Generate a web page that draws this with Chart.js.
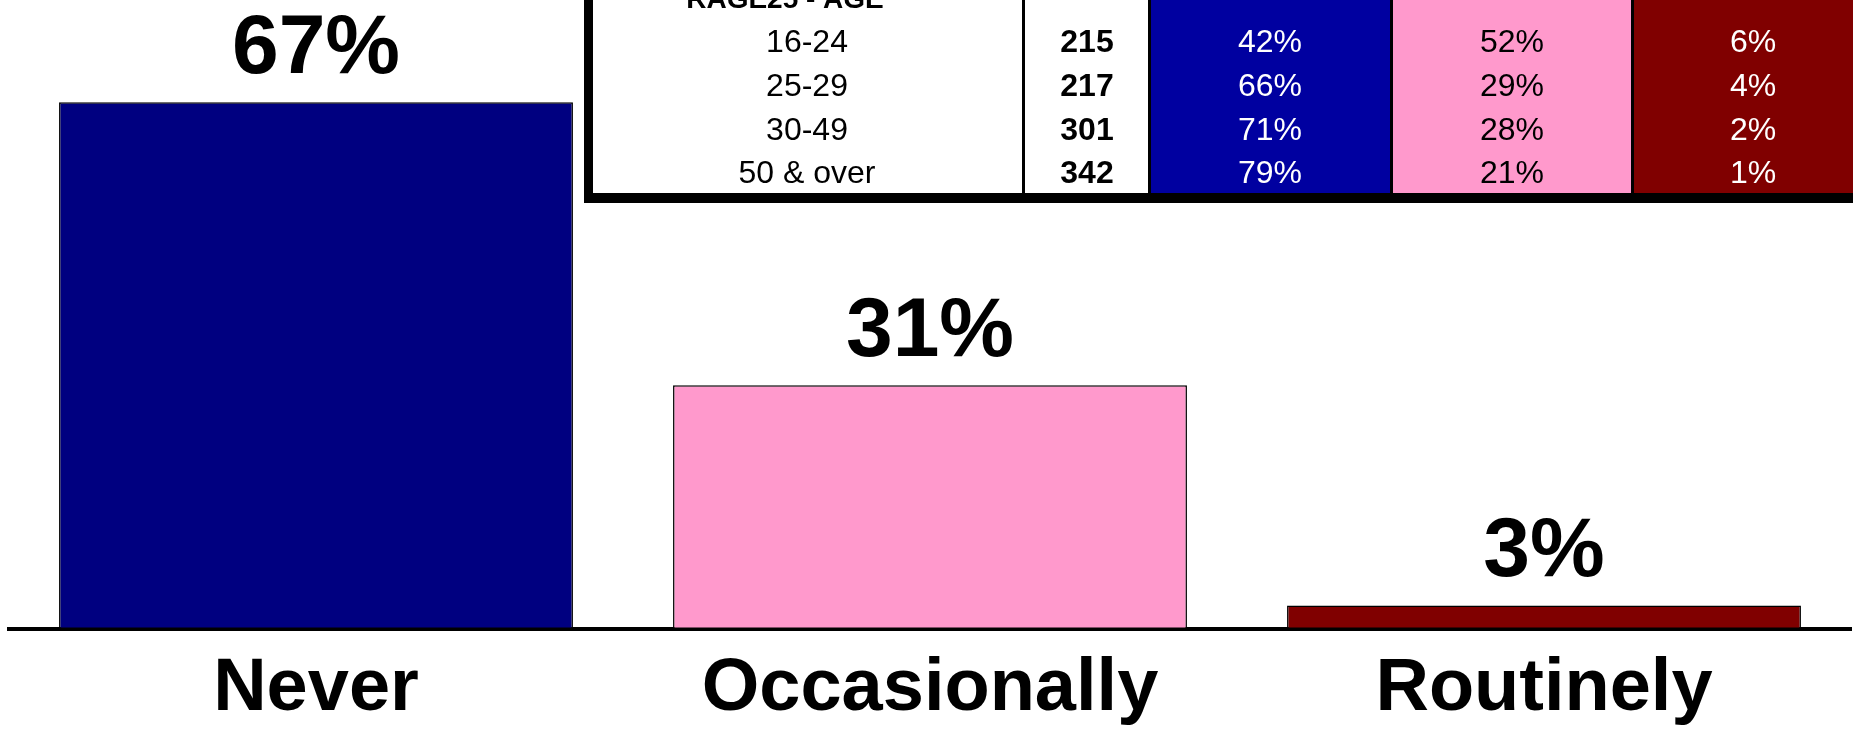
<!DOCTYPE html>
<html>
<head>
<meta charset="utf-8">
<script src="https://cdn.jsdelivr.net/npm/chart.js@4.4.1/dist/chart.umd.min.js"></script>
<style>
  html, body { margin: 0; padding: 0; background: #fff; }
  canvas { display: block; }
</style>
</head>
<body>
<canvas id="freq" width="1853" height="730"></canvas>
<script>
// overall answers
var categories = ['Never', 'Occasionally', 'Routinely'];
var shares = [67, 31, 3];
var barColors = ['#000080', '#FF99CC', '#800000'];

// breakdown by age (RAGE25)
var ageGroups = ['16-24', '25-29', '30-49', '50 & over'];
var baseCounts = [215, 217, 301, 342];
var neverByAge = [42, 66, 71, 79];
var occasionallyByAge = [52, 29, 28, 21];
var routinelyByAge = [6, 4, 2, 1];

var FONT = "'Liberation Sans', Arial, Helvetica, sans-serif";

// percentage labels above each bar
var valueLabels = {
    id: 'valueLabels',
    afterDatasetsDraw: function(chart) {
        var ctx = chart.ctx;
        var meta = chart.getDatasetMeta(0);
        ctx.save();
        ctx.font = 'bold 84px ' + FONT;
        ctx.fillStyle = '#000';
        ctx.textAlign = 'center';
        ctx.textBaseline = 'alphabetic';
        meta.data.forEach(function(bar, i) {
            ctx.fillText(shares[i] + '%', bar.x, bar.y - 29);
        });
        ctx.restore();
    }
};

// small age table in the top right corner
var ageTable = {
    id: 'ageTable',
    afterDraw: function(chart) {
        var ctx = chart.ctx;
        var left = 584, bottom = 203, right = 1900;
        var cols = [
            {x0: 593, x1: 1022, bg: '#fff'},
            {x0: 1025, x1: 1148, bg: '#fff'},
            {x0: 1151, x1: 1390, bg: '#0000A0'},
            {x0: 1393, x1: 1631, bg: '#FF99CC'},
            {x0: 1634, x1: right, bg: '#800000'}
        ];
        ctx.save();
        // frame + dividers
        ctx.fillStyle = '#000';
        ctx.fillRect(left, -10, right - left, bottom + 10);
        cols.forEach(function(c) {
            ctx.fillStyle = c.bg;
            ctx.fillRect(c.x0, -10, c.x1 - c.x0, 193 + 10);
        });

        ctx.textAlign = 'center';
        ctx.textBaseline = 'alphabetic';
        ctx.font = 'bold 28px ' + FONT;
        ctx.fillStyle = '#000';
        ctx.fillText('RAGE25 - AGE', 785, 8);

        var rowY = [52, 96, 139.5, 183];
        for (var i = 0; i < ageGroups.length; i++) {
            var y = rowY[i];
            ctx.font = '32px ' + FONT;
            ctx.fillStyle = '#000';
            ctx.fillText(ageGroups[i], 807, y);
            ctx.font = 'bold 32px ' + FONT;
            ctx.fillText(String(baseCounts[i]), 1087, y);
            ctx.font = '32px ' + FONT;
            ctx.fillStyle = '#fff';
            ctx.fillText(neverByAge[i] + '%', 1270, y);
            ctx.fillStyle = '#000';
            ctx.fillText(occasionallyByAge[i] + '%', 1512, y);
            ctx.fillStyle = '#fff';
            ctx.fillText(routinelyByAge[i] + '%', 1753, y);
        }
        ctx.restore();
    }
};

new Chart(
    document.getElementById('freq'),
    {
        type: 'bar',
        data: {
            labels: categories,
            datasets: [
                {
                    data: shares,
                    backgroundColor: barColors,
                    borderColor: '#000',
                    borderWidth: 1.5,
                    borderSkipped: false,
                    categoryPercentage: 1,
                    barPercentage: 0.837
                }
            ]
        },
        options: {
            responsive: false,
            animation: false,
            devicePixelRatio: 1,
            layout: {
                padding: {left: 9, right: 2, top: 0, bottom: 0}
            },
            scales: {
                x: {
                    z: 1,
                    grid: {display: false, drawTicks: false},
                    border: {display: true, color: '#000', width: 4},
                    ticks: {
                        color: '#000',
                        padding: 16,
                        font: {family: FONT, size: 74, weight: 'bold'}
                    },
                    afterFit: function(scale) {
                        scale.height = 101;
                    }
                },
                y: {
                    display: false,
                    min: 0,
                    max: 80
                }
            },
            plugins: {
                legend: {display: false},
                tooltip: {enabled: false},
                title: {display: false}
            }
        },
        plugins: [valueLabels, ageTable]
    }
);
</script>
</body>
</html>
